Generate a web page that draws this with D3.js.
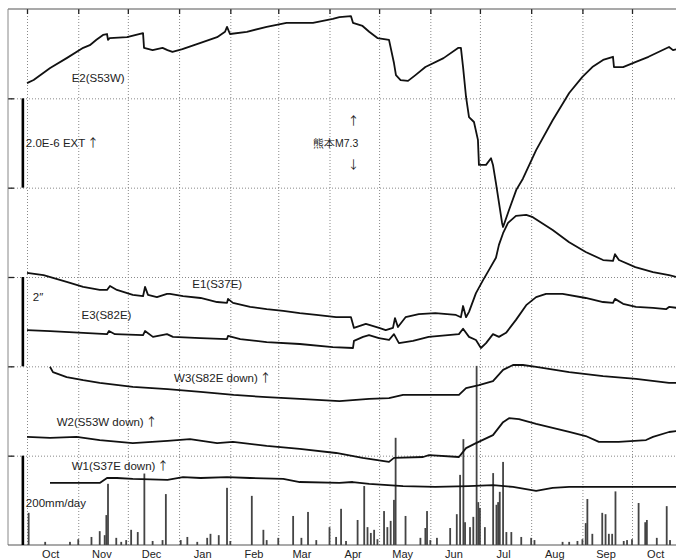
<!DOCTYPE html>
<html><head><meta charset="utf-8">
<script src="https://cdn.jsdelivr.net/npm/d3@7"></script>
<style>
html,body{margin:0;padding:0;background:#fff;}
svg{display:block;}
text{font-family:"Liberation Sans",Arial,sans-serif;fill:#222;}
.ar{font-family:"Noto Sans CJK JP","DejaVu Sans",sans-serif;}
</style></head>
<body><svg id="c" width="676" height="560"></svg>
<script>
// ---- data (day offsets from 2015-10-01, values in chart units: 1 grid division = 2 units) ----
const monthLabels = ["Oct","Nov","Dec","Jan","Feb","Mar","Apr","May","Jun","Jul","Aug","Sep","Oct"];
const gridLevels = [2,4,6,8,10];

const e2 = [[0,10.34],[4,10.41],[14,10.68],[24,10.90],[34,11.13],[38,11.19],[42,11.31],[46,11.42],[48.4,11.44],[49,11.31],[50,11.35],[60.5,11.37],[70.2,11.46],[70.8,11.13],[76,11.08],[82,11.13],[85,11.08],[88,11.04],[94,11.10],[105,11.24],[115,11.37],[119.8,11.49],[121,11.60],[122.8,11.44],[133,11.49],[145,11.60],[157,11.69],[165,11.69],[173,11.69],[185,11.78],[189,11.82],[196,11.84],[197.2,11.69],[203,11.62],[207,11.49],[212,11.35],[219,11.31],[222,10.79],[223.2,10.52],[226,10.41],[230.5,10.39],[235,10.52],[241,10.70],[252,10.90],[261,11.13],[262.5,11.13],[263.8,10.70],[265.6,10.03],[267.4,9.58],[270.4,9.47],[272.8,9.07],[273.4,8.51],[277.7,8.51],[280.7,8.66],[281.9,8.51],[283.7,8.10],[287.4,7.21],[288,7.12],[291.6,7.50],[296,7.95],[300,8.20],[308,8.84],[318,9.51],[328,10.12],[336,10.48],[342,10.70],[348.5,10.86],[354.5,10.93],[355.1,10.70],[360.6,10.70],[368,10.81],[376,10.93],[388.4,11.15],[390.8,11.08],[393,11.10]];

const e1 = [[0,6.09],[10,6.04],[24,5.89],[34,5.78],[44,5.71],[48.4,5.71],[50.2,5.80],[54.4,5.71],[64,5.60],[70.2,5.57],[71.4,5.78],[73.2,5.60],[78.6,5.55],[84.7,5.62],[86.5,5.62],[94.4,5.57],[105,5.53],[115,5.44],[121,5.42],[121.6,5.51],[124.6,5.42],[135,5.33],[145,5.28],[155,5.24],[165,5.19],[175,5.15],[187,5.10],[196,5.10],[197.8,4.86],[205,4.95],[213,4.86],[217,4.81],[221.4,4.86],[222.6,5.08],[224.4,4.88],[229,5.10],[237,5.17],[247,5.19],[259.5,5.15],[262.5,5.10],[263.8,5.35],[265.6,5.10],[267.4,5.22],[271.6,5.64],[275.9,5.93],[279.5,6.16],[283.7,6.43],[285.5,6.72],[288,6.98],[291,7.21],[295.8,7.37],[302,7.39],[306,7.34],[318,7.05],[328,6.78],[338,6.56],[348.5,6.38],[354.5,6.36],[355.7,6.51],[358.1,6.38],[368,6.22],[378.7,6.11],[388.4,6.04],[393,6.00]];

const e3 = [[0,4.81],[14,4.79],[34,4.75],[48.4,4.72],[49.6,4.79],[53.2,4.72],[70.2,4.70],[71.4,4.79],[76.2,4.66],[84.7,4.72],[88.3,4.66],[105,4.63],[121,4.61],[121.6,4.68],[129,4.61],[145,4.54],[165,4.50],[185,4.43],[197.2,4.41],[197.8,4.57],[203.3,4.66],[206.9,4.70],[212.9,4.63],[219,4.59],[222,4.72],[225,4.52],[233.5,4.57],[243,4.66],[261.3,4.72],[263.8,4.84],[267.4,4.66],[271.6,4.59],[274.6,4.41],[277.7,4.52],[281.9,4.72],[285.5,4.66],[289.8,4.75],[295.8,5.04],[302,5.37],[308,5.55],[314,5.62],[324,5.62],[338,5.53],[348.5,5.44],[354.5,5.42],[355.7,5.51],[360.6,5.40],[368.4,5.33],[378.7,5.31],[386.6,5.28],[388.4,5.33],[393,5.31]];

const w3 = [[13.9,3.99],[15.7,3.87],[24,3.76],[34,3.69],[44,3.63],[64,3.54],[85,3.49],[105,3.43],[125,3.36],[145,3.31],[165,3.27],[189,3.22],[207,3.27],[219,3.29],[227.5,3.36],[247,3.36],[261.3,3.36],[265.6,3.51],[273.4,3.58],[281.9,3.67],[288,3.92],[294,4.03],[300,4.03],[308,3.99],[328,3.87],[348.5,3.78],[368.4,3.72],[388.4,3.63],[393,3.63]];

const w2 = [[0,2.42],[14,2.40],[30,2.42],[44,2.35],[64,2.28],[85,2.33],[98.6,2.37],[115,2.28],[124.6,2.31],[145,2.22],[165,2.15],[187,2.06],[203,1.95],[219,1.86],[222,1.95],[239.6,1.97],[243.2,2.01],[261.3,1.97],[265.6,2.17],[271.6,2.28],[281.9,2.46],[288,2.75],[291.6,2.84],[297.6,2.82],[308,2.71],[328,2.53],[338,2.44],[346,2.31],[358,2.31],[374.5,2.35],[378.7,2.42],[388.4,2.53],[393,2.55]];

const w1 = [[13.9,1.39],[44,1.39],[48.4,1.50],[54.4,1.50],[64,1.48],[85,1.46],[94.4,1.52],[105,1.50],[121,1.52],[135,1.50],[155,1.48],[165,1.41],[189,1.39],[197,1.41],[207,1.37],[227.5,1.32],[247,1.30],[267,1.32],[282,1.34],[294,1.30],[308,1.21],[318,1.28],[328,1.30],[393,1.30]];

const rainDays = [1,11,26,31,39,44,47,48,49,54,57,60,63,67,71,76,82,84,93,97,103,109,111,116,121,123,136,143,145,152,161,166,170,175,183,187,190,193,200,204,206,208,210,212,216,218,220,222,223,229,238,241,242,244,248,256,260,262,264,265,268,270,272,273,274,277,282,284,285,286,288,290,293,299,305,307,324,328,333,336,338,339,342,348,350,352,354,356,361,363,366,370,374,375,381,387,389];
const rainMm   = [72,7,7,13,18,31,22,67,137,16,7,11,34,29,160,9,11,114,11,18,7,16,25,22,128,9,110,34,11,16,65,16,74,11,40,18,81,9,56,132,40,27,34,13,76,40,54,101,240,65,16,38,76,11,16,38,69,157,237,51,40,63,401,96,83,40,161,90,96,119,186,29,29,18,16,11,7,7,9,13,49,103,25,72,69,25,25,120,9,11,13,94,51,56,16,87,11];

const seriesLabels = [
  {t:"E2(S53W)", a:"", d:27, v:10.45},
  {t:"E1(S37E)", a:"", d:100, v:5.85},
  {t:"E3(S82E)", a:"", d:33, v:5.15},
  {t:"W3(S82E down)", a:"\u2191", d:89, v:3.75},
  {t:"W2(S53W down)", a:"\u2191", d:18, v:2.76},
  {t:"W1(S37E down)", a:"\u2191", d:27, v:1.77}
];

(function(){
// ---- scales ----
const START = Date.UTC(2015,9,1);
const dayToDate = d => new Date(START + d*864e5);
const svg = d3.select("#c");
const x = d3.scaleUtc().domain([new Date(START), new Date(Date.UTC(2016,9,1))]).range([27,632]);
const y = d3.scaleLinear().domain([0,12]).range([545,9]);
const yRain = d3.scaleLinear().domain([0,200]).range([545, y(2)]);
const pL = 8, pR = 676, pT = 9, pB = 545;
const FS = 11.5;

// ---- grid ----
const monthStarts = d3.utcMonth.range(new Date(START), new Date(Date.UTC(2016,11,1)));
const gx = svg.append("g").attr("transform",`translate(0,${pB})`)
  .call(d3.axisBottom(x).tickValues(monthStarts).tickSize(-(pB-pT)).tickFormat(""));
gx.select(".domain").remove();
gx.selectAll("line").attr("stroke","#888").attr("stroke-dasharray","1,2").attr("stroke-width",1);

const gy = svg.append("g").attr("transform",`translate(${pL},0)`)
  .call(d3.axisRight(y).tickValues(gridLevels).tickSize(pR-pL).tickFormat(""));
gy.select(".domain").remove();
gy.selectAll("line").attr("stroke","#888").attr("stroke-dasharray","1,2").attr("stroke-width",1);

// short solid ticks
const gt = svg.append("g").attr("transform",`translate(0,${pT})`)
  .call(d3.axisBottom(x).tickValues(monthStarts).tickSize(5).tickFormat(""));
gt.select(".domain").remove();
gt.selectAll("line").attr("stroke","#222").attr("stroke-width",1.3);
const gl = svg.append("g").attr("transform",`translate(${pL},0)`)
  .call(d3.axisRight(y).tickValues(gridLevels).tickSize(6).tickFormat(""));
gl.select(".domain").remove();
gl.selectAll("line").attr("stroke","#222").attr("stroke-width",1.3);

// frame
svg.append("line").attr("x1",pL).attr("x2",pR).attr("y1",pT).attr("y2",pT).attr("stroke","#555").attr("stroke-width",1.2);
svg.append("line").attr("x1",pL).attr("x2",pL).attr("y1",pT).attr("y2",pB).attr("stroke","#888").attr("stroke-width",1);
svg.append("line").attr("x1",pL).attr("x2",pR).attr("y1",pB).attr("y2",pB).attr("stroke","#555").attr("stroke-width",1.2);

// month labels
const mid = monthStarts.slice(0,13).map(m => d3.utcDay.offset(m,14));
const gb = svg.append("g").attr("transform",`translate(0,${pB})`)
  .call(d3.axisBottom(x).tickValues(mid).tickSize(0).tickPadding(5).tickFormat((d,i)=>monthLabels[i]));
gb.select(".domain").remove();
gb.selectAll("text").attr("font-size",11).attr("fill","#222").style("font-family","'Liberation Sans',Arial,sans-serif");

// ---- rain bars ----
svg.append("g").selectAll("rect").data(rainDays).join("rect")
  .attr("x", (d)=> x(dayToDate(d)) - 0.9)
  .attr("width", 1.8)
  .attr("y", (d,i)=> yRain(rainMm[i]))
  .attr("height", (d,i)=> yRain(0) - yRain(rainMm[i]))
  .attr("fill","#444");

// ---- lines ----
const line = d3.line().x(p=>x(dayToDate(p[0]))).y(p=>y(p[1]));
[e2,e1,e3,w3,w2,w1].forEach(s=>{
  svg.append("path").datum(s).attr("d",line).attr("fill","none")
    .attr("stroke","#111").attr("stroke-width",1.8).attr("stroke-linejoin","round");
});

// ---- scale bars ----
const sbx = x(dayToDate(-2.5));
[[y(10),y(8)],[y(6),y(4)],[yRain(200),yRain(0)]].forEach(([a,b])=>{
  svg.append("line").attr("x1",sbx).attr("x2",sbx).attr("y1",a).attr("y2",b)
    .attr("stroke","#000").attr("stroke-width",2.6);
});

// ---- text ----
const tx = svg.append("g").attr("font-size",FS);
seriesLabels.forEach(l=>{
  const t = tx.append("text").attr("x",x(dayToDate(l.d))).attr("y",y(l.v)).attr("dy","0.35em").text(l.t);
  if (l.a) t.append("tspan").attr("class","ar").attr("dx",2).text(l.a);
});
const t1 = tx.append("text").attr("x",sbx+3).attr("y",y(9)).attr("dy","0.35em").text("2.0E-6  EXT");
t1.append("tspan").attr("class","ar").attr("dx",2).text("\u2191");
tx.append("text").attr("x",sbx+10).attr("y",y(5.55)).attr("dy","0.35em").text("2\u2033");
tx.append("text").attr("x",sbx+3).attr("y",yRain(95)).attr("dy","0.35em").text("200mm/day");
const qx = x(dayToDate(197.5));
tx.append("text").attr("class","ar").attr("x",qx).attr("y",y(9.5)).attr("dy","0.35em").attr("text-anchor","middle").text("\u2191");
tx.append("text").attr("x",x(dayToDate(173))).attr("y",y(9)).attr("dy","0.35em").attr("font-size",10.5).text("熊本M7.3");
tx.append("text").attr("class","ar").attr("x",qx).attr("y",y(8.5)).attr("dy","0.35em").attr("text-anchor","middle").text("\u2193");
})();
</script></body></html>
